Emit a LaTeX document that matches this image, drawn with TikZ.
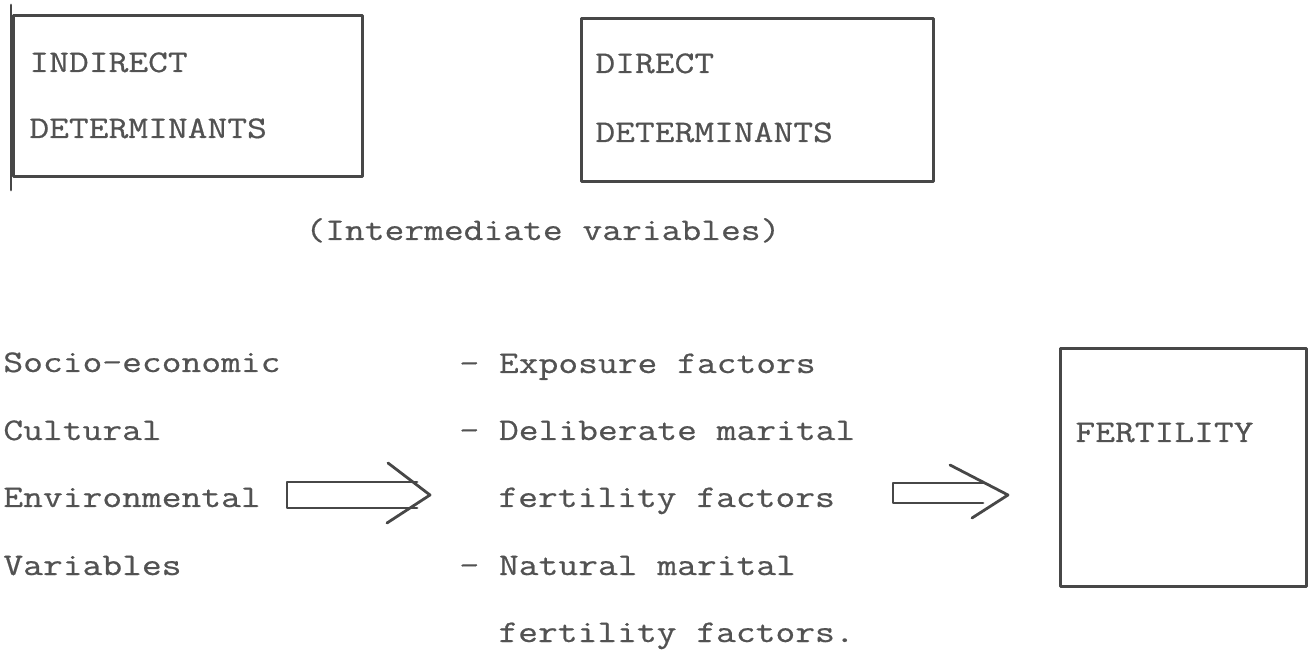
\documentclass[tikz,border=0pt]{standalone}
\usepackage{fontspec}
\setmonofont[FakeStretch=1.22,FakeBold=0.6]{Latin Modern Mono}
\begin{document}
\begin{tikzpicture}[x=0.5pt,y=-0.5pt,
  ink/.style={draw=black!72, line width=1.4pt, line join=round, line cap=round},
  boxnode/.style={ink, rectangle, anchor=north west, inner sep=0pt},
  txt/.style={anchor=base west, inner sep=0pt, text=black!68,
    font=\fontsize{15.75pt}{19pt}\selectfont\ttfamily}]
\useasboundingbox (0,0) rectangle (1311,651);
% boxes
\node[boxnode, minimum width=174.5pt, minimum height=80.5pt] (ind) at (12,14) {};
\node[boxnode, minimum width=176pt, minimum height=81.5pt] (dir) at (580,17) {};
\node[boxnode, minimum width=123pt, minimum height=119pt] (fert) at (1059,347) {};
\coordinate (indtop) at (11,5);
\coordinate (indbot) at (11,190);
\draw[ink] (indtop) -- (indbot);
% box texts
\node[txt] (t1a) at (29,72) {INDIRECT};
\node[txt] (t1b) at (29,138) {DETERMINANTS};
\node[txt] (t2a) at (595,73) {DIRECT};
\node[txt] (t2b) at (595,142) {DETERMINANTS};
\node[txt] (t3) at (1075,442) {FERTILITY};
\node[txt] (inter) at (305,240) {(Intermediate variables)};
% left column
\node[txt] (l1) at (3,372) {Socio-economic};
\node[txt] (l2) at (3,440) {Cultural};
\node[txt] (l3) at (3,507) {Environmental};
\node[txt] (l4) at (3,575) {Variables};
% middle column
\node[txt] (m1) at (459,373) {- Exposure factors};
\node[txt] (m2) at (459,440) {- Deliberate marital};
\node[txt] (m3) at (498,507) {fertility factors};
\node[txt] (m4) at (459,575) {- Natural marital};
\node[txt] (m5) at (498,642) {fertility factors.};
% arrow 1
\coordinate (a1s) at (287,482);
\draw[ink] (417,482) -- (a1s) -- (287,508) -- (417,508);
\draw[ink] (388,463) -- (430,495) -- (387,523);
% arrow 2
\coordinate (a2s) at (893,483);
\draw[ink] (983,483) -- (a2s) -- (893,503) -- (983,503);
\draw[ink] (950,465) -- (1008,495) -- (972,518);
\end{tikzpicture}
\end{document}
